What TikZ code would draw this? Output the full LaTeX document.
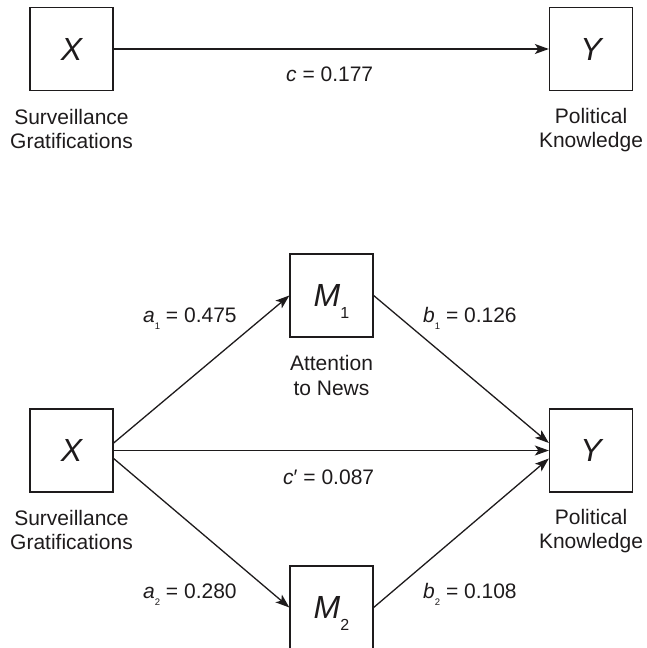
\documentclass[tikz,border=0pt]{standalone}
\usepackage{fontspec}
\setmainfont{Liberation Sans}
\usetikzlibrary{arrows.meta}
\definecolor{ink}{RGB}{30,27,28}
\newcommand{\lsub}[1]{\raisebox{-6.5pt}{\fontsize{9.5}{9.5}\selectfont #1}}
\newcommand{\bsub}[1]{\raisebox{-11.5pt}[0pt][0pt]{\fontsize{16}{16}\selectfont\upshape #1}}
\begin{document}
\begin{tikzpicture}[x=1pt,y=-1pt,
  box/.style={draw=ink, line width=1.3pt, minimum width=83pt, minimum height=83pt, inner sep=0pt,
    font=\fontsize{32}{32}\selectfont\itshape, text=ink},
  captxt/.style={anchor=base, inner sep=0pt, font=\fontsize{21}{24}\selectfont, text=ink},
  labtxt/.style={anchor=base west, inner sep=0pt, font=\fontsize{21}{24}\selectfont, text=ink},
  arr/.style={draw=ink, line width=1.3pt, -{Stealth[length=14pt,width=10pt,inset=3.5pt]}},
]
\useasboundingbox (0,0) rectangle (647,648);
\clip (0,0) rectangle (647,648);

% top model
\node[box] (X1) at (71.5,49) {X};
\node[box] (Y1) at (591,49) {Y};
\draw[arr] (X1.east) -- (Y1.west);
\node[labtxt] (c) at (286,81.5) {\textit{c} = 0.177};
\node[captxt] (s1a) at (71.5,124) {Surveillance};
\node[captxt] (s1b) at (71.5,148) {Gratifications};
\node[captxt] (p1a) at (591,123) {Political};
\node[captxt] (p1b) at (591,147) {Knowledge};

% mediation model
\node[box] (X2) at (71.5,450.5) {X};
\node[box] (Y2) at (591,450.5) {Y};
\node[box] (M1) at (331.5,295.5) {M\bsub{1}};
\node[box] (M2) at (331.5,607.5) {M\bsub{2}};

\draw[arr] ([yshift=7.5pt]X2.east) -- (M1.west);
\draw[arr] (X2.east) -- (Y2.west);
\draw[arr] ([yshift=-8pt]X2.east) -- (M2.west);
\draw[arr] (M1.east) -- ([yshift=7.5pt]Y2.west);
\draw[arr] (M2.east) -- ([yshift=-8pt]Y2.west);

\node[labtxt] (a1) at (143,322.7) {\textit{a}\lsub{1} = 0.475};
\node[labtxt] (b1) at (423,322.7) {\textit{b}\lsub{1} = 0.126};
\node[labtxt] (cp) at (283,484) {\textit{c}′ = 0.087};
\node[labtxt] (a2) at (143,598.5) {\textit{a}\lsub{2} = 0.280};
\node[labtxt] (b2) at (423,598.5) {\textit{b}\lsub{2} = 0.108};

\node[captxt] (m1a) at (331.5,370.5) {Attention};
\node[captxt] (m1b) at (331.5,395) {to News};
\node[captxt] (s2a) at (71.5,525) {Surveillance};
\node[captxt] (s2b) at (71.5,549) {Gratifications};
\node[captxt] (p2a) at (591,524) {Political};
\node[captxt] (p2b) at (591,548) {Knowledge};
\end{tikzpicture}
\end{document}
